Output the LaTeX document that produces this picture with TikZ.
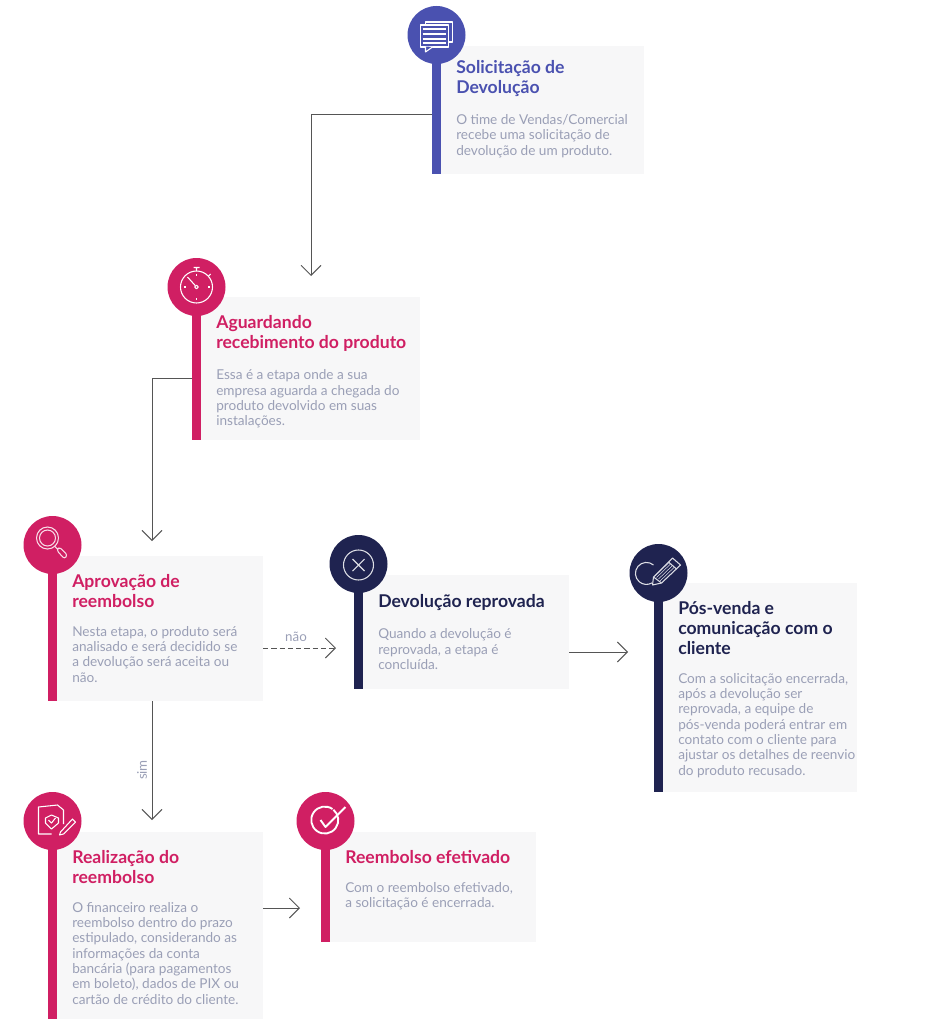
\documentclass[tikz,border=0pt]{standalone}
\usepackage{fontspec}
\setmainfont{Lato}
\usetikzlibrary{positioning, arrows.meta}
\definecolor{stepblue}{HTML}{4A51B0}
\definecolor{steppink}{HTML}{D01F63}
\definecolor{stepnavy}{HTML}{1F2350}
\definecolor{cardgray}{HTML}{F7F7F8}
\definecolor{bodygray}{HTML}{9A9FB6}
\definecolor{linegray}{HTML}{555555}

\begin{document}
\begin{tikzpicture}[x=0.75pt, y=-0.75pt]
      \tikzstyle{stepcard} = [rectangle, fill=cardgray, inner sep=0pt, outer sep=0pt]
      \tikzstyle{stepbar} = [rectangle, minimum width=6.75pt, inner sep=0pt, outer sep=0pt, anchor=south east]
      \tikzstyle{stepdot} = [circle, minimum size=43.5pt, inner sep=0pt, outer sep=0pt]
      \tikzstyle{steptitle} = [font=\fontsize{13.2pt}{15pt}\selectfont\bfseries, align=left, inner sep=0pt]
      \tikzstyle{stepbody} = [font=\fontsize{10.2pt}{11.5pt}\selectfont, text=bodygray, align=left, inner sep=0pt]
      \tikzstyle{arrow} = [draw=linegray, line width=0.7pt, -{Straight Barb[length=7.5pt, width=15pt, line width=0.7pt]}]
      \tikzstyle{icon} = [draw=white, line width=0.8pt, line join=round]
      \tikzstyle{edgelabel} = [font=\fontsize{10pt}{11pt}\selectfont, text=bodygray, inner sep=0pt]

      \useasboundingbox (0,0) rectangle (945,1024);

      % solicitacao
      \node (card1) [stepcard, minimum width=152.25pt, minimum height=96pt] at (542.5,110) {};
      \node (bar1) [stepbar, fill=stepblue, minimum height=104.25pt] at (card1.south west) {};
      \node (dot1) [stepdot, fill=stepblue] at (bar1.north) {};
      \node (title1) [steptitle, text=stepblue, below right=10.5pt and 11.25pt of card1.north west] {Solicitação de\\Devolução};
      \node (body1) [stepbody, below=13pt of title1.south west, anchor=north west] {O time de Vendas/Comercial\\recebe uma solicitação de\\devolução de um produto.};

      % aguardando
      \node (card2) [stepcard, minimum width=164.25pt, minimum height=107.25pt] at (310.5,368.5) {};
      \node (bar2) [stepbar, fill=steppink, minimum height=114.75pt] at (card2.south west) {};
      \node (dot2) [stepdot, fill=steppink] at (bar2.north) {};
      \node (title2) [steptitle, text=steppink, below right=13.5pt and 11.25pt of card2.north west] {Aguardando\\recebimento do produto};
      \node (body2) [stepbody, below=13.5pt of title2.south west, anchor=north west] {Essa é a etapa onde a sua\\empresa aguarda a chegada do\\produto devolvido em suas\\instalações.};

      % aprovacao
      \node (card3) [stepcard, minimum width=154.5pt, minimum height=108.75pt] at (160,628.5) {};
      \node (bar3) [stepbar, fill=steppink, minimum height=117pt] at (card3.south west) {};
      \node (dot3) [stepdot, fill=steppink] at (bar3.north) {};
      \node (title3) [steptitle, text=steppink, below right=13.5pt and 11.25pt of card3.north west] {Aprovação de\\reembolso};
      \node (body3) [stepbody, below=13.5pt of title3.south west, anchor=north west] {Nesta etapa, o produto será\\analisado e será decidido se\\a devolução será aceita ou\\não.};

      % reprovada
      \node (card4) [stepcard, minimum width=154.5pt, minimum height=85.5pt] at (466,632) {};
      \node (bar4) [stepbar, fill=stepnavy, minimum height=93.75pt] at (card4.south west) {};
      \node (dot4) [stepdot, fill=stepnavy] at (bar4.north) {};
      \node (title4) [steptitle, text=stepnavy, below right=14pt and 11.25pt of card4.north west] {Devolução reprovada};
      \node (body4) [stepbody, below=13.5pt of title4.south west, anchor=north west] {Quando a devolução é\\reprovada, a etapa é\\concluída.};

      % pos-venda
      \node (card5) [stepcard, minimum width=145.5pt, minimum height=156.75pt] at (760,687.5) {};
      \node (bar5) [stepbar, fill=stepnavy, minimum height=164.25pt] at (card5.south west) {};
      \node (dot5) [stepdot, fill=stepnavy] at (bar5.north) {};
      \node (title5) [steptitle, text=stepnavy, below right=13.5pt and 11.25pt of card5.north west] {Pós-venda e\\comunicação com o\\cliente};
      \node (body5) [stepbody, below=13.5pt of title5.south west, anchor=north west] {Com a solicitação encerrada,\\após a devolução ser\\reprovada, a equipe de\\pós-venda poderá entrar em\\contato com o cliente para\\ajustar os detalhes de reenvio\\do produto recusado.};

      % realizacao
      \node (card6) [stepcard, minimum width=154.5pt, minimum height=140.25pt] at (160,925.5) {};
      \node (bar6) [stepbar, fill=steppink, minimum height=148.5pt] at (card6.south west) {};
      \node (dot6) [stepdot, fill=steppink] at (bar6.north) {};
      \node (title6) [steptitle, text=steppink, below right=13.5pt and 11.25pt of card6.north west] {Realização do\\reembolso};
      \node (body6) [stepbody, below=13.5pt of title6.south west, anchor=north west] {O financeiro realiza o\\reembolso dentro do prazo\\estipulado, considerando as\\informações da conta\\bancária (para pagamentos\\em boleto), dados de PIX ou\\cartão de crédito do cliente.};

      % efetivado
      \node (card7) [stepcard, minimum width=154.5pt, minimum height=82.5pt] at (433,887) {};
      \node (bar7) [stepbar, fill=steppink, minimum height=90.75pt] at (card7.south west) {};
      \node (dot7) [stepdot, fill=steppink] at (bar7.north) {};
      \node (title7) [steptitle, text=steppink, below right=13.5pt and 11.25pt of card7.north west] {Reembolso efetivado};
      \node (body7) [stepbody, below=13.5pt of title7.south west, anchor=north west] {Com o reembolso efetivado,\\a solicitação é encerrada.};

      % arrow ends
      \coordinate (in2) at (311,276);
      \coordinate (in3) at (152,541);
      \coordinate (in4) at (336,648);
      \coordinate (in5) at (628,652);
      \coordinate (in6) at (152,820);
      \coordinate (in7) at (300,908);

      \draw [arrow] (bar1.west |- 0,114) -| (in2);
      \draw [arrow] (bar2.west |- 0,378) -| (in3);
      \draw [arrow, dash pattern=on 4pt off 2.2pt] (card3.east |- in4) -- (in4);
      \draw [arrow] (card4.east |- in5) -- (in5);
      \draw [arrow] (in6 |- card3.south) -- (in6);
      \draw [arrow] (card6.east |- in7) -- (in7);

      \node (nao) [edgelabel] at (296,637) {não};
      \node (sim) [edgelabel, rotate=90] at (142,770) {sim};

      % icons
      \begin{scope}[shift={(dot1.center)}, icon]
        \draw (-11,-6) -- (-11,-13) -- (16,-13) -- (16,7) -- (12,7);
        \draw [fill=stepblue] (-16,-10) rectangle (12,12);
        \draw [fill=stepblue] (-11,11.5) -- (-11,17) -- (-4,12);
        \draw (-14,-6) -- (9,-6) (-14,-1) -- (9,-1) (-14,4) -- (9,4) (-14,8) -- (9,8);
      \end{scope}
      \begin{scope}[shift={(dot2.center)}, icon]
        \draw (0,0) circle (16);
        \draw (0,0) circle (1.8);
        \draw (-1.2,-1.4) -- (-9,-10);
        \draw (0,-16) -- (0,-19) (-3,-19.5) -- (3,-19.5) (12,-11) -- (14,-13);
        \draw (0,-13) -- (0,-11) (0,13) -- (0,11) (-13,0) -- (-11,0) (13,0) -- (11,0);
      \end{scope}
      \begin{scope}[shift={(dot3.center)}, icon, draw=white!85!steppink]
        \draw (-5,-7) circle (11);
        \draw (-5,-7) circle (8);
        \draw (2,1) -- (5,4);
        \draw [rounded corners=2pt] (4,5) -- (7,2) -- (15,10) -- (12,14) -- cycle;
      \end{scope}
      \begin{scope}[shift={(dot4.center)}, icon, draw=white!85!stepnavy]
        \draw (0,1) circle (15);
        \draw (-6,-5) -- (6,7) (-6,7) -- (6,-5);
      \end{scope}
      \begin{scope}[shift={(dot5.center)}, icon, draw=white!85!stepnavy]
        \draw (-5,-8) arc (-50:-300:11);
        \draw (-6,12) -- (-5,4) -- (14,-15) -- (22,-8) -- (3,10) -- cycle;
        \draw (-5,4) -- (3,10) (10,-11) -- (18,-4);
        \draw [line width=0.4pt] (-2,4.5) -- (12,-9) (0,6) -- (14,-7.5) (-3.5,3) -- (10.5,-10.5) (1.5,8) -- (16,-6);
      \end{scope}
      \begin{scope}[shift={(dot6.center)}, icon]
        \draw (-1,13) -- (-14,13) -- (-14,-14) -- (5,-16) -- (11,-11) -- (11,3);
        \draw (-1,-6) -- (6,-3) -- (6,2) -- (-1,8) -- (-7,2) -- (-7,-3) -- cycle;
        \draw (-4,-1) -- (-1,2) -- (3,-3);
        \draw (8,11) -- (20,-2) -- (23,1) -- (11,13) -- (7,14) -- cycle;
      \end{scope}
      \begin{scope}[shift={(dot7.center)}, icon, line width=1.4pt]
        \draw (7,-12) arc (-55:-410:13.5);
        \draw (-5,-1) -- (0,6) -- (20,-14);
      \end{scope}
    \end{tikzpicture}
\end{document}
